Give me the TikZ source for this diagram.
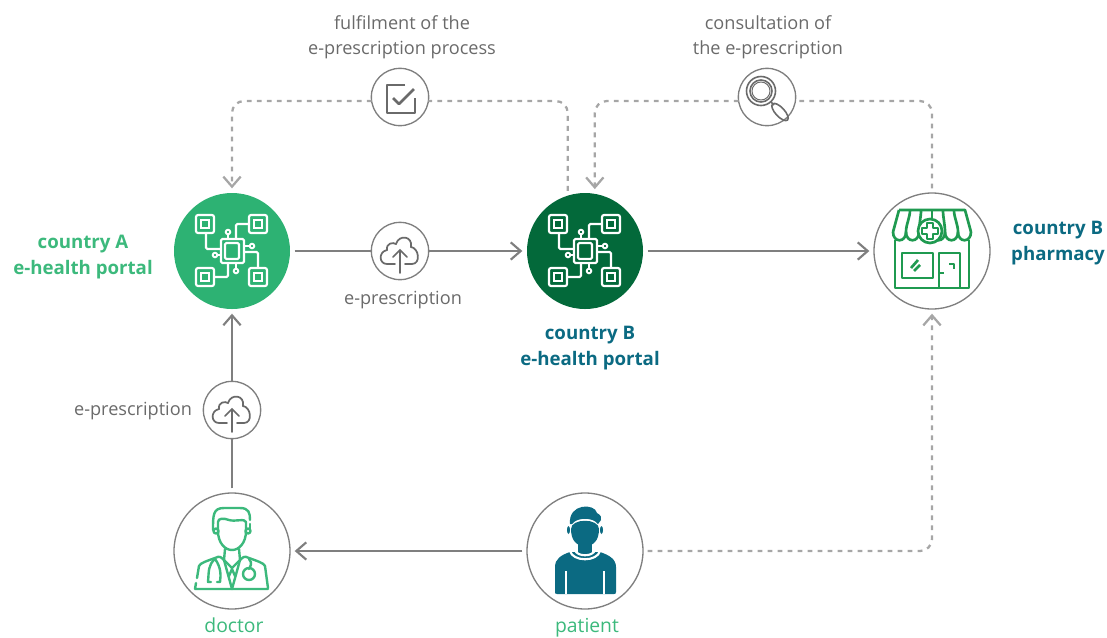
\documentclass[tikz,border=0pt]{standalone}
\usepackage{fontspec}
\setmainfont{Open Sans}
\usetikzlibrary{arrows.meta,positioning}
\definecolor{portalA}{HTML}{2DB273}
\definecolor{portalB}{HTML}{03693A}
\definecolor{teal}{HTML}{0B6A82}
\definecolor{leaf}{HTML}{3CB97C}
\definecolor{shop}{HTML}{1F9A50}
\definecolor{flow}{HTML}{7F7F7F}
\definecolor{dots}{HTML}{A6A6A6}
\definecolor{ink}{HTML}{6A6A6A}
\tikzset{
  bignode/.style={circle,draw=flow,fill=white,line width=1pt,minimum size=87pt,inner sep=0pt,outer sep=3.5pt},
  smallnode/.style={circle,draw=flow,fill=white,line width=1pt,minimum size=43pt,inner sep=0pt,outer sep=0pt},
  flowline/.style={draw=flow,line width=1.6pt},
  dotline/.style={draw=dots,line width=1.7pt,dash pattern=on 3.6pt off 3.9pt,rounded corners=9pt},
  gtext/.style={text=ink,font=\fontsize{13.6}{19}\selectfont,align=center},
  boldtext/.style={font=\fontsize{14}{20}\selectfont\bfseries,align=center},
  pics/chip/.style={code={
    \draw[white,line width=1.6pt,rounded corners=1pt] (-11,-12) rectangle (12,12) (-7,-8) rectangle (7,8);
    \foreach \a/\b in {-36/-36,17/-36,-36/17,17/17}{
      \draw[white,line width=1.6pt,rounded corners=1.5pt] (\a,\b) rectangle ++(18,18);
      \draw[white,line width=1.4pt] (\a+5,\b+5) rectangle ++(8,8);
    }
    \draw[white,line width=1.6pt,rounded corners=1pt] (-26,-18)--(-26,-2)--(-11,-2);
    \draw[white,line width=1.6pt,rounded corners=1pt] (17,-27)--(4,-27)--(4,-12);
    \draw[white,line width=1.6pt,rounded corners=1pt] (-18,26)--(-4,26)--(-4,12);
    \draw[white,line width=1.6pt,rounded corners=1pt] (12,1)--(26,1)--(26,17);
    \draw[white,line width=1.4pt] (-4,-12)--(-4,-17) (12,-5)--(18,-5) (-11,4)--(-15,4) (4,12)--(4,17);
    \foreach \a/\b in {-4/-19,20/-5,-17/4,4/20}
      \draw[white,line width=1.4pt] (\a,\b) circle (2.3);
  }},
  pics/cloud/.style={code={
    \draw[ink,line width=1.3pt,line cap=round] (-5,13)--(-13,13)
      .. controls (-21,13) and (-22,1) .. (-13,-1)
      .. controls (-14,-8) and (-7,-9) .. (-4,-7)
      .. controls (-1,-17) and (13,-15) .. (11,-4)
      .. controls (19,-3) and (21,13) .. (12,13)--(5,13);
    \draw[ink,line width=1.3pt,line cap=round] (0,22)--(0,-1) (-7,6)--(0,-1)--(7,6);
  }},
  pics/tick/.style={code={
    \draw[ink,line width=2.1pt,line join=round] (5,-12)--(-13,-12)--(-13,16)--(15,16)--(15,1);
    \draw[ink,line width=2.1pt,line join=round] (-7,1)--(-1,7)--(14,-8);
  }},
  pics/lens/.style={code={
    \draw[ink,line width=1.2pt] (-6,-6) circle (14.5) (-6,-6) circle (11);
    \draw[ink,line width=.7pt] (-6,-6) circle (9);
    \draw[ink,line width=1.2pt] (4,5)--(7,8);
    \draw[ink,line width=1.2pt,rotate around={-47:(13,15)}] (13,15) ellipse (11 and 4.5);
  }},
  pics/store/.style={code={
    \begin{scope}[shop,line width=2pt,line join=round]
    \draw (-37,-11)--(-37,37)--(37,37)--(37,-11);
    \draw (-33,-41)--(33,-41)--(39,-19) (-33,-41)--(-39,-19);
    \foreach \i in {0,...,5}
      \draw (-39+13*\i,-19) .. controls (-39+13*\i,-8) and (-26+13*\i,-8) .. (-26+13*\i,-19);
    \foreach \i in {1,...,5}
      \draw (-33+11*\i,-41) .. controls (-33+11*\i,-33) and (-39+13*\i,-27) .. (-39+13*\i,-19);
    \draw[fill=white] (-2,-20) circle (12);
    \draw[line width=1.7pt] (-5,-28)--(1,-28)--(1,-23)--(6,-23)--(6,-17)--(1,-17)--(1,-12)--(-5,-12)--(-5,-17)--(-10,-17)--(-10,-23)--(-5,-23)--cycle;
    \draw (-30,2) rectangle (1,27);
    \draw (7,37)--(7,2)--(28,2)--(28,37);
    \draw (8,22)--(12,22) (17,13)--(22,13)--(22,18);
    \draw (-21,17)--(-14,9) (-18,20)--(-12,14);
    \end{scope}
  }},
  pics/medic/.style={code={
    \begin{scope}[leaf,line width=1.8pt,line cap=round,line join=round]
    \draw (-19,-21) .. controls (-19,-36) and (-19,-43) .. (-8,-43)--(8,-43) .. controls (17,-43) and (18,-38) .. (18,-31);
    \draw (18,-27)--(18,-21);
    \draw (-14,-20)--(-14,-29) .. controls (-14,-33) and (-8,-33) .. (-3,-31) .. controls (3,-29) and (13,-33) .. (14,-29)--(14,-20);
    \draw (-14,-20) .. controls (-14,-8) and (-7,-1) .. (0,-1) .. controls (7,-1) and (14,-8) .. (14,-20);
    \draw (-16,-20) circle (2.5) (16,-20) circle (2.5);
    \draw (-35,27)--(-33,15) .. controls (-32,12) and (-25,10) .. (-17,7) .. controls (-12,4) and (-10,7) .. (-8,9);
    \draw (36,37)--(33,15) .. controls (32,12) and (25,10) .. (17,7) .. controls (12,4) and (10,7) .. (8,9);
    \draw (-37,38)--(-36,32) (-37,38)--(36,38);
    \draw (-7,-2)--(-8,9)--(0,38)--(8,9)--(7,-2);
    \draw (-8,9)--(0,17)--(8,9) (-3,25)--(0,18)--(3,25);
    \draw (-17,8) .. controls (-24,14) and (-23,20) .. (-24,31)--(-21,31);
    \draw (-17,8) .. controls (-11,16) and (-11,24) .. (-12,31)--(-15,31);
    \draw (17,8) .. controls (21,12) and (18,16) .. (17,18);
    \draw (17,23) circle (6);
    \end{scope}
  }},
  pics/person/.style={code={
    \fill[teal] (-15,-27) .. controls (-17,-48) and (10,-48) .. (12,-38) .. controls (16,-36) and (17,-33) .. (16,-31)--(13,-27) .. controls (8,-34) and (-8,-34) .. (-13,-27)--cycle;
    \fill[teal] (-14,-22) .. controls (-14,-33) and (14,-33) .. (14,-22) .. controls (14,-10) and (8,-5) .. (0,-5) .. controls (-8,-5) and (-14,-10) .. (-14,-22)--cycle;
    \fill[teal] (-16.5,-21) ellipse (1.5 and 4) (16.5,-21) ellipse (1.5 and 4);
    \fill[teal] (-30,41) -- (-30,16) .. controls (-30,8) and (-24,4) .. (-15,1)
      -- (15,1) .. controls (24,4) and (31,8) .. (31,16) -- (31,41) .. controls (31,43) and (30,43) .. (29,43) -- (-28,43) .. controls (-30,43) and (-30,42) .. (-30,41)--cycle;
    \fill[teal] (-7,-8) rectangle (7,3);
    \draw[white,line width=1.6pt] (-15,0) .. controls (-12,11) and (12,11) .. (15,0);
    \draw[white,line width=1.6pt] (-10,-1) .. controls (-8,6) and (8,6) .. (10,-1);
    \draw[white,line width=1.4pt] (-19,43)--(-19,20) (19,43)--(19,20);
  }}
}
\begin{document}
\begin{tikzpicture}[x=.75pt,y=-.75pt,>={Straight Barb[length=7.5pt,width=13pt]},line cap=butt]
\useasboundingbox (0,0) rectangle (1107,637);
% main nodes
\node[bignode,draw=none,fill=portalA] (portalA) at (232,251) {};
\node[bignode,draw=none,fill=portalB] (portalB) at (585,251) {};
\node[bignode] (pharmacy) at (932,251) {};
\node[bignode] (doctor) at (232,551) {};
\node[bignode] (patient) at (585,551) {};
\node[smallnode] (tick) at (400,97) {};
\node[smallnode] (lens) at (767,97) {};
\node[smallnode] (upload) at (400,251) {};
\node[smallnode] (sendup) at (232,410) {};
% icons
\pic at (portalA) {chip};
\pic at (portalB) {chip};
\pic at (pharmacy) {store};
\pic at (doctor) {medic};
\pic at (patient) {person};
\pic at (tick) {tick};
\pic at (lens) {lens};
\pic at (upload) {cloud};
\pic at (sendup) {cloud};
% solid flows
\draw[flowline] (portalA)--(upload);
\draw[flowline,->] (upload)--(portalB);
\draw[flowline,->] (portalB)--(pharmacy);
\draw[flowline] (doctor)--(sendup);
\draw[flowline,->] (sendup)--(portalA);
\draw[flowline,->] (patient)--(doctor);
% dotted flows
\draw[dotline,->] (patient) -| (pharmacy);
\draw[dotline] (pharmacy) |- (lens.-8);
\draw[dotline,->] (lens.188) -| (portalB.81);
\draw[dotline] (portalB.106) |- (tick.-8);
\draw[dotline,->] (tick.188) -| (portalA);
% labels
\node[gtext] (tLabel) at (402,37) {fulfilment of the\\e-prescription process};
\node[gtext] (cLabel) at (768,37) {consultation of\\the e-prescription};
\node[gtext] (eLabelA) at (403,300) {e-prescription};
\node[gtext] (eLabelB) at (133,411) {e-prescription};
\node[boldtext,text=leaf] (aLabel) at (83,257) {country A\\e-health portal};
\node[boldtext,text=teal] (bLabel) at (590,348) {country B\\e-health portal};
\node[boldtext,text=teal] (pLabel) at (1058,243) {country B\\pharmacy};
\node[text=leaf,font=\fontsize{14.5}{17}\selectfont,anchor=base,inner sep=0pt] (dLabel) at (234,632) {doctor};
\node[text=leaf,font=\fontsize{14.5}{17}\selectfont,anchor=base,inner sep=0pt] (paLabel) at (587,632) {patient};
\end{tikzpicture}
\end{document}
